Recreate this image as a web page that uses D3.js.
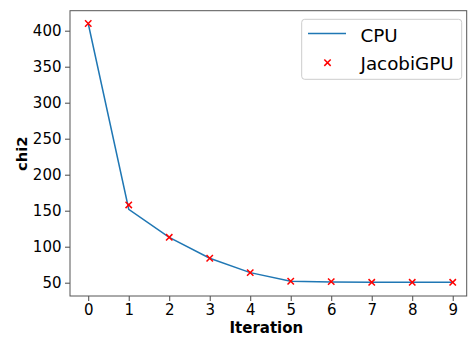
<!DOCTYPE html>
<html>
<head>
<meta charset="utf-8">
<script src="https://cdn.jsdelivr.net/npm/d3@7"></script>
<style>
  body { margin: 0; background: #fff; }
  text { font-family: "DejaVu Sans", sans-serif; fill: #000; }
</style>
</head>
<body>
<svg width="468" height="337"></svg>
<script>
const iterations = [0, 1, 2, 3, 4, 5, 6, 7, 8, 9];
const cpu = [410, 152, 113, 84, 64, 52, 51, 50.5, 50.5, 50.5];
const jacobiGpu = [410, 158, 113, 84, 64, 52, 51.5, 50.5, 50.5, 50.5];
const yTicks = [50, 100, 150, 200, 250, 300, 350, 400];

const svg = d3.select("svg");
const mLeft = 70, mTop = 10.7, mRight = 466.7, mBottom = 296;

const x = d3.scaleLinear().domain([-0.45, 9.45]).range([mLeft, mLeft + 9.9 * 40.5]);
const y = d3.scaleLinear().domain([50, 400]).range([282.7, 30.7]);

// axes
svg.append("g")
    .attr("transform", `translate(0,${mBottom})`)
    .call(d3.axisBottom(x).tickValues(iterations).tickFormat(d3.format("d")).tickSize(5).tickPadding(3))
    .call(g => g.select(".domain").remove())
    .call(g => g.selectAll("line").attr("stroke", "#333").attr("stroke-width", 0.9))
    .call(g => g.selectAll("text").attr("font-size", 15).attr("fill", "#1a1a1a"));

svg.append("g")
    .attr("transform", `translate(${mLeft},0)`)
    .call(d3.axisLeft(y).tickValues(yTicks).tickSize(5).tickPadding(3.5))
    .call(g => g.select(".domain").remove())
    .call(g => g.selectAll("line").attr("stroke", "#333").attr("stroke-width", 0.9))
    .call(g => g.selectAll("text").attr("font-size", 15).attr("fill", "#1a1a1a"));

// frame
svg.append("rect")
    .attr("x", mLeft).attr("y", mTop)
    .attr("width", mRight - mLeft).attr("height", mBottom - mTop)
    .attr("fill", "none").attr("stroke", "#555").attr("stroke-width", 1);

// CPU line
svg.append("path")
    .datum(iterations)
    .attr("fill", "none")
    .attr("stroke", "#1f77b4")
    .attr("stroke-width", 1.5)
    .attr("d", d3.line().x(i => x(i)).y(i => y(cpu[i])));

// JacobiGPU markers
const xMark = (s) => `M${-s},${-s}L${s},${s}M${-s},${s}L${s},${-s}`;
svg.append("g")
    .selectAll("path")
    .data(iterations)
    .join("path")
    .attr("transform", i => `translate(${x(i)},${y(jacobiGpu[i])})`)
    .attr("d", xMark(3.2))
    .attr("stroke", "red")
    .attr("stroke-width", 1.5)
    .attr("fill", "none");

// axis labels
svg.append("text")
    .attr("x", (mLeft + mRight) / 2 - 2)
    .attr("y", 333)
    .attr("text-anchor", "middle")
    .attr("font-size", 15)
    .attr("font-weight", "bold")
    .text("Iteration");

svg.append("text")
    .attr("transform", `translate(26.5,153.7) rotate(-90)`)
    .attr("text-anchor", "middle")
    .attr("font-size", 14.8)
    .attr("font-weight", "bold")
    .text("chi2");

// legend
const legend = svg.append("g");
legend.append("rect")
    .attr("x", 301.7).attr("y", 19.3)
    .attr("width", 160).attr("height", 60)
    .attr("rx", 3)
    .attr("fill", "white").attr("fill-opacity", 0.8)
    .attr("stroke", "#ccc").attr("stroke-width", 1);
legend.append("line")
    .attr("x1", 308).attr("x2", 346)
    .attr("y1", 33.5).attr("y2", 33.5)
    .attr("stroke", "#1f77b4").attr("stroke-width", 1.5);
legend.append("path")
    .attr("transform", "translate(327.5,62.7)")
    .attr("d", xMark(3.2))
    .attr("stroke", "red").attr("stroke-width", 1.5);
legend.append("text")
    .attr("x", 360.5).attr("y", 41.5)
    .attr("font-size", 18.3)
    .text("CPU");
legend.append("text")
    .attr("x", 360.5).attr("y", 70)
    .attr("font-size", 18.3)
    .text("JacobiGPU");
</script>
</body>
</html>
